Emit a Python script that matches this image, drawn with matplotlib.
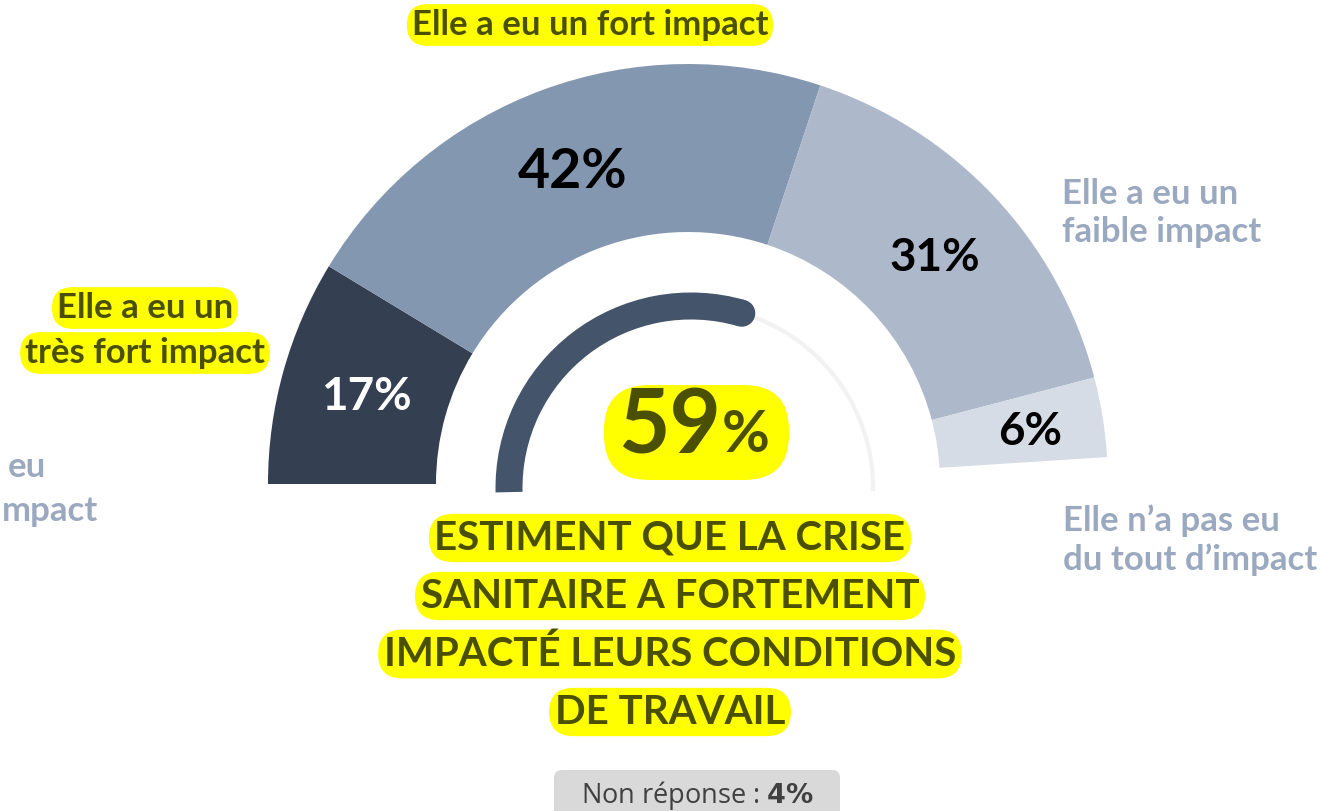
import numpy as np
import matplotlib.pyplot as plt
from matplotlib.patches import Wedge, FancyBboxPatch, Arc, Circle

# data
segments = ["Elle a eu un très fort impact", "Elle a eu un fort impact",
            "Elle a eu un faible impact", "Elle n'a pas eu du tout d'impact"]
values = [17, 42, 31, 6]
hidden = 100  # invisible lower half of the doughnut
seg_colors = ["#343f52", "#8497b0", "#adb9ca", "#d6dce5"]
seg_text_colors = ["white", "black", "black", "black"]
share_strong = 59
no_answer = 4
headline = ["ESTIMENT QUE LA CRISE", "SANITAIRE A FORTEMENT",
            "IMPACTÉ LEURS CONDITIONS", "DE TRAVAIL"]

W, H = 1329, 811
YEL = "#ffff00"
OLIVE = "#4b5000"
GREYBLUE = "#9aa9bf"
FONT = "Lato"

fig = plt.figure(figsize=(W / 100, H / 100), dpi=100)
ax = fig.add_axes([0, 0, 1, 1])
ax.set_xlim(0, W)
ax.set_ylim(0, H)
ax.set_aspect("equal")
ax.axis("off")

# outer doughnut (pixel coords, y measured upward)
cx, cy = 688, H - 484
R, r = 420, 252
deg_per = 360 / (sum(values) + hidden)
start = 180
for v, c in zip(values, seg_colors):
    end = start - v * deg_per
    ax.add_patch(Wedge((cx, cy), R, end, start, width=R - r, facecolor=c, edgecolor="none"))
    start = end

# value labels
lab_pos = [(366, 397), (573, 172), (935, 258), (1030, 432)]
lab_size = [33, 40, 33, 33]
for v, (x, y), s, tc in zip(values, lab_pos, lab_size, seg_text_colors):
    ax.text(x, H - y, f"{v}%", ha="center", va="center", fontsize=s,
            fontweight="bold", color=tc, family=FONT)

# inner gauge
gx, gy, gr, gw = 691, H - 488, 182, 27
ax.add_patch(Arc((gx, gy), 2 * gr, 2 * gr, theta1=-1, theta2=180, color="#f2f2f2", lw=3))
a_end = 180 - share_strong * 1.8
ax.add_patch(Wedge((gx, gy), gr + gw / 2, a_end, 181.3, width=gw, facecolor="#44546a",
                   edgecolor="none"))
ax.add_patch(Circle((gx + gr * np.cos(np.radians(a_end)), gy + gr * np.sin(np.radians(a_end))),
                    gw / 2, facecolor="#44546a", edgecolor="none"))

# 59% box
ax.add_patch(FancyBboxPatch((604, H - 480), 185, 95, boxstyle="round,pad=0,rounding_size=45",
                            facecolor=YEL, edgecolor="none"))
ax.text(721, H - 428, f"{share_strong}", ha="right", va="center", fontsize=64,
        fontweight="bold", color=OLIVE, family=FONT)
ax.text(722, H - 436, "%", ha="left", va="center", fontsize=42,
        fontweight="bold", color=OLIVE, family=FONT)

hl = dict(boxstyle="round,pad=0.14,rounding_size=0.6", facecolor=YEL, edgecolor="none")

# headline
for i, line in enumerate(headline):
    ax.text(670, H - (538 + i * 58), line, ha="center", va="center", fontsize=29,
            fontweight="bold", color=OLIVE, family=FONT, bbox=hl)

# category labels
ax.text(590, H - 25, "Elle a eu un fort impact", ha="center", va="center", fontsize=25,
        fontweight="bold", color=OLIVE, family=FONT, bbox=hl)
ax.text(145, H - 308, "Elle a eu un", ha="center", va="center", fontsize=25,
        fontweight="bold", color=OLIVE, family=FONT, bbox=hl)
ax.text(145, H - 353, "très fort impact", ha="center", va="center", fontsize=25,
        fontweight="bold", color=OLIVE, family=FONT, bbox=hl)
ax.text(1062, H - 213, "Elle a eu un\nfaible impact", ha="left", va="center", fontsize=25,
        fontweight="bold", color=GREYBLUE, family=FONT, linespacing=1.25)
ax.text(1063, H - 540, "Elle n’a pas eu\ndu tout d’impact", ha="left", va="center",
        fontsize=25, fontweight="bold", color=GREYBLUE, family=FONT, linespacing=1.25)
# visible remains of a label cut by the slide edge
ax.text(46, H - 467, "eu", ha="right", va="center", fontsize=25,
        fontweight="bold", color=GREYBLUE, family=FONT)
ax.text(2, H - 511, "mpact", ha="left", va="center", fontsize=25,
        fontweight="bold", color=GREYBLUE, family=FONT)

# non-response box
ax.add_patch(FancyBboxPatch((554, -20), 286, H - 770 + 20, boxstyle="round,pad=0,rounding_size=8",
                            facecolor="#d9d9d9", edgecolor="none"))
ax.text(697, H - 795, f"Non réponse : $\\bf{{{no_answer}\\%}}$", ha="center", va="center",
        fontsize=19.5, color="#404040", family="Open Sans")

fig.savefig("out.png", dpi=100)
